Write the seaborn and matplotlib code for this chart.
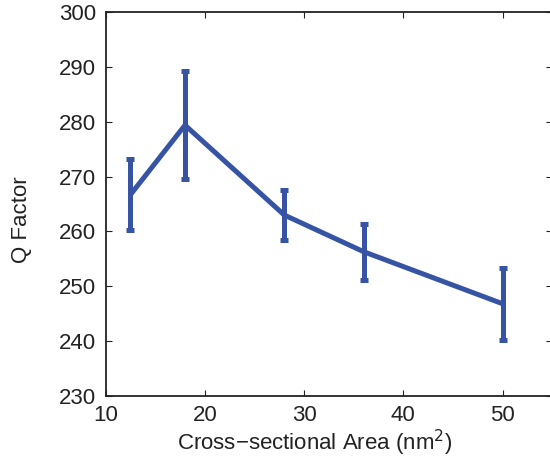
import matplotlib
matplotlib.use("Agg")
import matplotlib.pyplot as plt
import seaborn as sns
import pandas as pd

area = [12.5, 18, 28, 36, 50]
q_factor = [266.7, 279.4, 263.0, 256.3, 246.8]
q_err = [6.5, 9.8, 4.6, 5.1, 6.6]
x_ticks = [10, 20, 30, 40, 50]
y_ticks = [230, 240, 250, 260, 270, 280, 290, 300]

sns.set_style("white")
plt.rcParams['font.family'] = ['Liberation Sans', 'DejaVu Sans']

df = pd.DataFrame({"area": area, "q": q_factor, "err": q_err})
color = "#3653A4"

fig = plt.figure(figsize=(5.5, 4.57), dpi=100)
ax = fig.add_axes([0.192, 0.134, 0.812, 0.839])
sns.lineplot(data=df, x="area", y="q", ax=ax, color=color, linewidth=3.6, zorder=3)
ax.errorbar(df["area"], df["q"], yerr=df["err"], fmt="none", ecolor=color,
            elinewidth=3.6, capsize=3.0, capthick=3.6, zorder=3)

ax.set_xlim(10, 55)
ax.set_ylim(230, 300)
ax.set_xticks(x_ticks)
ax.set_yticks(y_ticks)
ax.set_xlabel("Cross\u2212sectional Area (nm$^2$)", fontsize=16, color="#222222", labelpad=1, x=0.469)
ax.set_ylabel("Q Factor", fontsize=16, color="#222222", labelpad=19, y=0.46)
ax.tick_params(axis="both", which="both", direction="in", length=4, width=0.8,
               labelsize=16, labelcolor="#222222", top=True, right=True, bottom=True, left=True,
               color="#222222", pad=7)
for s in ax.spines.values():
    s.set_color("#222222")
    s.set_linewidth(1.3)
    s.set_visible(True)

fig.savefig("out.png", dpi=100)
